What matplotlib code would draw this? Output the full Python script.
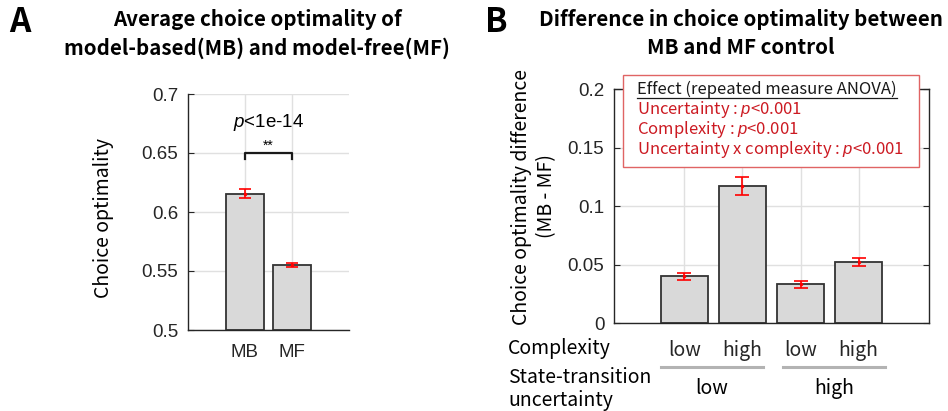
import matplotlib
matplotlib.use("Agg")
import matplotlib.pyplot as plt
import matplotlib.transforms as mtransforms
import numpy as np

# mean choice optimality per controller
modes = ["MB", "MF"]
opt_mean = [0.6155, 0.555]
opt_sem = [0.004, 0.0015]

# MB - MF difference per condition (uncertainty x complexity)
complexity = ["low", "high", "low", "high"]
uncertainty = ["low", "high"]
diff_mean = [0.040, 0.117, 0.033, 0.052]
diff_sem = [0.003, 0.008, 0.0028, 0.0037]

anova_lines = ["Uncertainty : $p$<0.001",
               "Complexity : $p$<0.001",
               "Uncertainty x complexity : $p$<0.001"]

W, H = 948, 411
plt.rcParams["mathtext.fontset"] = "custom"
plt.rcParams["mathtext.it"] = "Liberation Sans:italic"
plt.rcParams["mathtext.rm"] = "Liberation Sans"

SANS = ["Liberation Sans", "DejaVu Sans"]
NOTO = ["Noto Sans CJK KR", "Noto Sans", "DejaVu Sans"]
AX_COL = "#262626"
BAR_COL = "#d9d9d9"
ERR_COL = "#ff0000"
TXT_RED = "#cc1a22"


def px(x, y):
    return x / W, 1 - y / H


def axes_px(fig, l, t, r, b):
    return fig.add_axes([l / W, 1 - b / H, (r - l) / W, (b - t) / H])


def style_axes(ax, box):
    for s in ["left", "bottom", "top", "right"]:
        ax.spines[s].set_color(AX_COL)
        ax.spines[s].set_linewidth(1.0)
    if not box:
        ax.spines["top"].set_visible(False)
        ax.spines["right"].set_visible(False)
    ax.tick_params(direction="in", length=4, width=0.8, colors=AX_COL,
                   right=box, top=box)
    ax.grid(True, color="#e0e0e0", linewidth=1.0)
    ax.set_axisbelow(True)


fig = plt.figure(figsize=(W / 100, H / 100), dpi=100)

# ---- panel A ----
axA = axes_px(fig, 188, 94, 349, 330)
xa = np.arange(1, len(modes) + 1)
axA.bar(xa, [m - 0.5 for m in opt_mean], bottom=0.5, width=0.8, color=BAR_COL,
        edgecolor="#333333", linewidth=1.3, zorder=2)
axA.errorbar(xa, opt_mean, yerr=opt_sem, fmt=".", color=ERR_COL, ms=3,
             capsize=4.5, elinewidth=1.2, capthick=1.2, zorder=3)
axA.set_xlim(-0.21, 3.21)
axA.set_ylim(0.5, 0.7)
axA.set_xticks(xa)
axA.set_xticklabels(modes, fontfamily=SANS, fontsize=13.5)
axA.set_yticks([0.5, 0.55, 0.6, 0.65, 0.7])
axA.set_yticklabels(["0.5", "0.55", "0.6", "0.65", "0.7"], fontfamily=SANS, fontsize=13.5)
axA.tick_params(axis="x", pad=10)
axA.tick_params(axis="y", pad=7)
style_axes(axA, box=False)

# significance bracket
axA.plot([1, 1, 2, 2], [0.6445, 0.65, 0.65, 0.6445], color="#1a1a1a", lw=1.6,
         zorder=4, clip_on=False)
axA.text(1.5, 0.6505, "**", ha="center", va="bottom", fontsize=10, fontfamily=SANS)
axA.text(1.5, 0.676, "$p$<1e-14", ha="center", va="center", fontsize=13.5,
         fontfamily=SANS)

fig.text(*px(103, 218), "Choice optimality", rotation=90, ha="center", va="center",
         fontsize=14, fontfamily=NOTO)
fig.text(*px(257, 20), "Average choice optimality of", ha="center", va="center",
         fontsize=14.8, fontweight="bold", fontfamily=NOTO)
fig.text(*px(257, 48), "model-based(MB) and model-free(MF)", ha="center", va="center",
         fontsize=14.8, fontweight="bold", fontfamily=NOTO)
fig.text(*px(20, 23), "A", ha="center", va="center", fontsize=24,
         fontweight="bold", fontfamily=NOTO)

# ---- panel B ----
axB = axes_px(fig, 614, 89, 929, 323)
xb = np.arange(1, len(complexity) + 1)
axB.bar(xb, diff_mean, width=0.8, color=BAR_COL, edgecolor="#333333",
        linewidth=1.3, zorder=2)
axB.errorbar(xb, diff_mean, yerr=diff_sem, fmt=".", color=ERR_COL, ms=3,
             capsize=4.8, elinewidth=1.2, capthick=1.2, zorder=3)
axB.set_xlim(-0.21, 5.21)
axB.set_ylim(0, 0.2)
axB.set_xticks(xb)
axB.set_xticklabels(complexity, fontfamily=NOTO, fontsize=14)
axB.set_yticks([0, 0.05, 0.1, 0.15, 0.2])
axB.set_yticklabels(["0", "0.05", "0.1", "0.15", "0.2"], fontfamily=SANS, fontsize=13.5)
axB.tick_params(axis="x", pad=12)
axB.tick_params(axis="y", pad=7)
style_axes(axB, box=True)

# uncertainty grouping under the complexity labels
trans = mtransforms.blended_transform_factory(axB.transData, axB.transAxes)
for (x0, x1), lab in zip([(0.6, 2.35), (2.7, 4.45)], uncertainty):
    axB.plot([x0, x1], [-0.188, -0.188], color="#b3b3b3", lw=2.2,
             transform=trans, clip_on=False)
    axB.text((x0 + x1) / 2, -0.282, lab, transform=trans, ha="center", va="center",
             fontsize=14, fontfamily=NOTO)

fig.text(*px(508, 348), "Complexity", ha="left", va="center", fontsize=14, fontfamily=NOTO)
fig.text(*px(508, 377), "State-transition", ha="left", va="center", fontsize=14,
         fontfamily=NOTO)
fig.text(*px(508, 400), "uncertainty", ha="left", va="center", fontsize=14,
         fontfamily=NOTO)

fig.text(*px(522, 197), "Choice optimality difference", rotation=90, ha="center",
         va="center", fontsize=14, fontfamily=NOTO)
fig.text(*px(547, 196), "(MB - MF)", rotation=90, ha="center", va="center",
         fontsize=14, fontfamily=NOTO)

fig.text(*px(741, 20), "Difference in choice optimality between", ha="center",
         va="center", fontsize=14.8, fontweight="bold", fontfamily=NOTO)
fig.text(*px(741, 48), "MB and MF control", ha="center", va="center",
         fontsize=14.8, fontweight="bold", fontfamily=NOTO)
fig.text(*px(496, 23), "B", ha="center", va="center", fontsize=24,
         fontweight="bold", fontfamily=NOTO)

# ANOVA summary box
box_l, box_t, box_r, box_b = 623, 75, 919, 167
fig.patches.append(plt.Rectangle(px(box_l, box_b), (box_r - box_l) / W,
                                 (box_b - box_t) / H, transform=fig.transFigure,
                                 facecolor="white", edgecolor="#e06464", lw=1.0,
                                 zorder=5))
head = fig.text(*px(637, 89), "Effect (repeated measure ANOVA)", ha="left",
                va="center", fontsize=12, fontfamily=NOTO, color="#1a1a1a", zorder=6)
for i, line in enumerate(anova_lines):
    fig.text(*px(637, 109 + 20 * i), line, ha="left", va="center", fontsize=12,
             fontfamily=NOTO, color=TXT_RED, zorder=6)

fig.canvas.draw()
bb = head.get_window_extent()
fig.lines.append(plt.Line2D([bb.x0 / W, bb.x1 / W], [1 - 98 / H, 1 - 98 / H],
                            transform=fig.transFigure, color="#1a1a1a", lw=0.9,
                            zorder=6))

fig.savefig("out.png", dpi=100)
